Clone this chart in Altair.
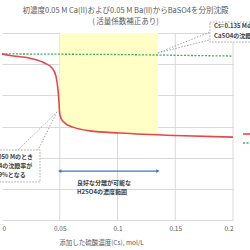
import altair as alt
import pandas as pd

FONT = "Noto Sans CJK JP"

# Red curve (remaining Ba, arbitrary gridline units)
red_x = [0.0, 0.0069, 0.0242, 0.0372, 0.0433, 0.0468, 0.0485, 0.0494, 0.0498, 0.0502,
         0.0511, 0.0545, 0.0615, 0.0762, 0.1022, 0.1498, 0.2]
red_y = [5.33, 5.28, 5.19, 5.03, 4.88, 4.60, 4.17, 3.75, 3.47, 3.37,
         3.26, 3.11, 2.98, 2.86, 2.79, 2.71, 2.66]
# Green dashed line
green_x = [0.0, 0.1, 0.2]
green_y = [5.33, 5.31, 5.26]
# Yellow region (between curve and top)
fill_x = [0.05, 0.0502, 0.0511, 0.0545, 0.0615, 0.0762, 0.1022, 0.135]
fill_y = [3.42, 3.37, 3.26, 3.11, 2.98, 2.86, 2.79, 2.73]
fill_top = 6.0
# Grid
grid_x = [0.05, 0.1, 0.15, 0.2]
grid_y = [0, 1, 2, 3, 4, 5, 6]
tick_x = [0, 0.05, 0.1, 0.15, 0.2]
# Arrow for good separation range
arrow_x = [0.05, 0.135]
arrow_y = 1.57
range_text = ["良好な分離が可能な", "H2SO4の濃度範囲"]
range_text_x = 0.0649
range_text_y = [1.19, 0.90]
# Callout bottom-left
cl1_box = [-0.025, 0.0329, 2.246, 1.22]
cl1_apex = [0.0476, 3.47]
cl1_base = [[0.0139, 2.246], [0.0312, 2.246]]
cl1_text = ["Cs=0.050 Mのとき", "BaSO4の沈殿率が", "99.9%となる"]
cl1_text_x = 0.0048
cl1_text_y = [2.02, 1.733, 1.444]
# Callout top-right
cl2_box = [0.180, 0.26, 6.35, 5.71]
cl2_apex = [0.135, 5.36]
cl2_base = [[0.180, 6.03], [0.180, 5.78]]
cl2_text = ["Cs=0.135 Mのとき", "CaSO4の沈殿が始まる"]
cl2_text_x = 0.1835
cl2_text_y = [6.22, 5.90]
# Legend fragments (cut off at right)
leg_x = [0.2087, 0.225]
leg_red_y = 2.76
leg_green_y = 2.47

title_lines = ["初濃度0.05 M Ca(II)および0.05 M Ba(II)からBaSO4を分別沈殿", "( 活量係数補正あり)"]
x_title = "添加した硫酸濃度(Cs), mol/L"

xs = alt.Scale(domain=[0, 0.2], nice=False, zero=False)
ys = alt.Scale(domain=[0, 6], nice=False, zero=False)
xaxis = alt.Axis(values=tick_x, labelExpr="'' + datum.value", grid=False, domain=False, ticks=False,
                 labelFontSize=6.5, labelColor="#595959", labelFont=FONT, labelPadding=5,
                 title=x_title, titleFontSize=6.5, titleColor="#595959", titleFont=FONT,
                 titleFontWeight="normal", titleX=99, titleY=22, titleAlign="center",
                 titleBaseline="middle")
yaxis = alt.Axis(values=grid_y, grid=True, gridColor="#d9d9d9", gridWidth=1, labels=False,
                 ticks=False, domain=False, title=None)

def X(f="x"):
    return alt.X(f + ":Q", scale=xs, axis=xaxis)

def Y(f="y"):
    return alt.Y(f + ":Q", scale=ys, axis=yaxis)

red_df = pd.DataFrame({"x": red_x, "y": red_y})
green_df = pd.DataFrame({"x": green_x, "y": green_y})
fill_df = pd.DataFrame({"x": fill_x, "y": fill_y, "y2": [fill_top] * len(fill_x)})
gridx_df = pd.DataFrame({"x": grid_x})

vgrid = alt.Chart(gridx_df).mark_rule(color="#d9d9d9", strokeWidth=1).encode(x=X())
area = alt.Chart(fill_df).mark_area(color="#FFFFC6", interpolate="monotone").encode(
    x=X(), y=Y(), y2="y2:Q")
green = alt.Chart(green_df).mark_line(color="#3DAE5E", strokeDash=[2, 1.5], strokeWidth=1.3).encode(
    x=X(), y=Y())
red = alt.Chart(red_df).mark_line(color="#E5484A", strokeWidth=1.6, interpolate="monotone").encode(
    x=X(), y=Y())

arrow_df = pd.DataFrame({"x": [arrow_x[0]], "x2": [arrow_x[1]], "y": [arrow_y]})
arrow = alt.Chart(arrow_df).mark_rule(color="#4472C4", strokeWidth=1.2).encode(
    x=X(), x2="x2:Q", y=Y())
heads_df = pd.DataFrame({"x": arrow_x, "y": [arrow_y, arrow_y], "s": ["triangle-left", "triangle-right"]})
heads = alt.Chart(heads_df).mark_point(filled=True, color="#4472C4", size=14, opacity=1).encode(
    x=X(), y=Y(), shape=alt.Shape("s:N", scale=None, legend=None))

rt_df = pd.DataFrame({"x": [range_text_x] * 2, "y": range_text_y, "t": range_text})
rtext = alt.Chart(rt_df).mark_text(align="left", baseline="middle", fontSize=6, font=FONT,
                                   color="#404040", fontWeight="bold").encode(x=X(), y=Y(), text="t:N")

def callout(box, apex, bases, texts, tx, tys, align):
    bdf = pd.DataFrame({"x": [box[0]], "x2": [box[1]], "y": [box[2]], "y2": [box[3]]})
    rect = alt.Chart(bdf).mark_rect(fill="white", stroke="#a6a6a6", strokeDash=[1.5, 1.5],
                                    strokeWidth=1).encode(x=X(), x2="x2:Q", y=Y(), y2="y2:Q")
    ldf = pd.DataFrame({"x": [apex[0]] * len(bases), "y": [apex[1]] * len(bases),
                        "x2": [b[0] for b in bases], "y2": [b[1] for b in bases]})
    lines = alt.Chart(ldf).mark_rule(color="#a6a6a6", strokeDash=[1.5, 1.5], strokeWidth=1).encode(
        x=X(), y=Y(), x2="x2:Q", y2="y2:Q")
    tdf = pd.DataFrame({"x": [tx] * len(texts), "y": tys, "t": texts})
    txt = alt.Chart(tdf).mark_text(align=align, baseline="middle", fontSize=6, font=FONT,
                                   color="#404040", fontWeight="bold").encode(x=X(), y=Y(), text="t:N")
    return [lines, rect, txt]

c1 = callout(cl1_box, cl1_apex, cl1_base, cl1_text, cl1_text_x, cl1_text_y, "center")
c2 = callout(cl2_box, cl2_apex, cl2_base, cl2_text, cl2_text_x, cl2_text_y, "left")

legr_df = pd.DataFrame({"x": [leg_x[0]], "x2": [leg_x[1]], "y": [leg_red_y]})
legg_df = pd.DataFrame({"x": [leg_x[0]], "x2": [leg_x[1]], "y": [leg_green_y]})
legr = alt.Chart(legr_df).mark_rule(color="#E5484A", strokeWidth=1.6).encode(x=X(), x2="x2:Q", y=Y())
legg = alt.Chart(legg_df).mark_rule(color="#3DAE5E", strokeWidth=1.3, strokeDash=[2, 1.5]).encode(
    x=X(), x2="x2:Q", y=Y())

chart = alt.layer(vgrid, area, green, red, arrow, heads, rtext, *c1, *c2, legr, legg).properties(
    width=231, height=187,
    autosize=alt.AutoSizeParams(type="none"),
    padding={"left": 2, "top": 33, "right": 17, "bottom": 30},
    background="white",
    title=alt.TitleParams(text=title_lines, fontSize=7.5, color="#595959", font=FONT,
                          fontWeight="normal", anchor="middle", dx=8, offset=-4, lineHeight=11),
).configure_view(stroke=None)

chart.save("out.html", embed_options={"renderer": "svg", "actions": False})
